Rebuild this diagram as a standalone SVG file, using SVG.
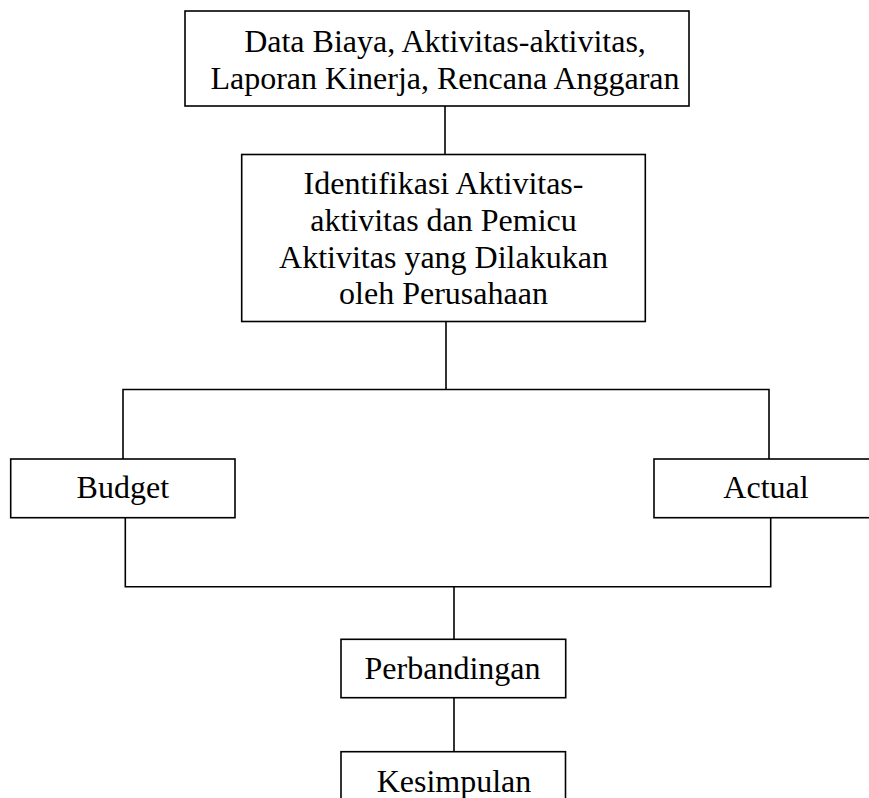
<svg xmlns="http://www.w3.org/2000/svg" width="869" height="798" viewBox="0 0 869 798">
<style>
.box{fill:#fff;stroke:#000;stroke-width:1.6}
.ln{fill:none;stroke:#000;stroke-width:1.6}
text{font-family:"Liberation Serif","Times New Roman",serif;font-size:32px;fill:#000;text-anchor:middle}
</style>
<rect width="869" height="798" fill="#fff"/>
<g id="connectors">
<line class="ln" x1="445" y1="106" x2="445" y2="154.5"/>
<line class="ln" x1="446" y1="321.5" x2="446" y2="389.5"/>
<polyline class="ln" points="123,459 123,389.5 769,389.5 769,459"/>
<polyline class="ln" points="125.3,517.7 125.3,586.7 770.7,586.7 770.7,517.7"/>
<line class="ln" x1="454" y1="586.7" x2="454" y2="639.3"/>
<line class="ln" x1="454" y1="697.7" x2="454" y2="751.7"/>
</g>
<g id="data">
<rect class="box" x="185" y="11" width="504" height="95"/>
<text x="445" y="51.7">Data Biaya, Aktivitas-aktivitas,</text>
<text x="445" y="88.5">Laporan Kinerja, Rencana Anggaran</text>
</g>
<g id="identifikasi">
<rect class="box" x="241.7" y="154.5" width="403.6" height="167"/>
<text x="443.5" y="194">Identifikasi Aktivitas-</text>
<text x="443.5" y="230.8">aktivitas dan Pemicu</text>
<text x="443.5" y="267.6">Aktivitas yang Dilakukan</text>
<text x="443.5" y="304.4">oleh Perusahaan</text>
</g>
<g id="budget">
<rect class="box" x="10.7" y="459" width="224.3" height="58.7"/>
<text x="122.8" y="498">Budget</text>
</g>
<g id="actual">
<rect class="box" x="654" y="459" width="230" height="58.7"/>
<text x="766" y="498">Actual</text>
</g>
<g id="perbandingan">
<rect class="box" x="341" y="639.3" width="224.7" height="58.4"/>
<text x="452.5" y="679">Perbandingan</text>
</g>
<g id="kesimpulan">
<rect class="box" x="341" y="751.7" width="224.5" height="80"/>
<text x="454" y="792">Kesimpulan</text>
</g>
</svg>
